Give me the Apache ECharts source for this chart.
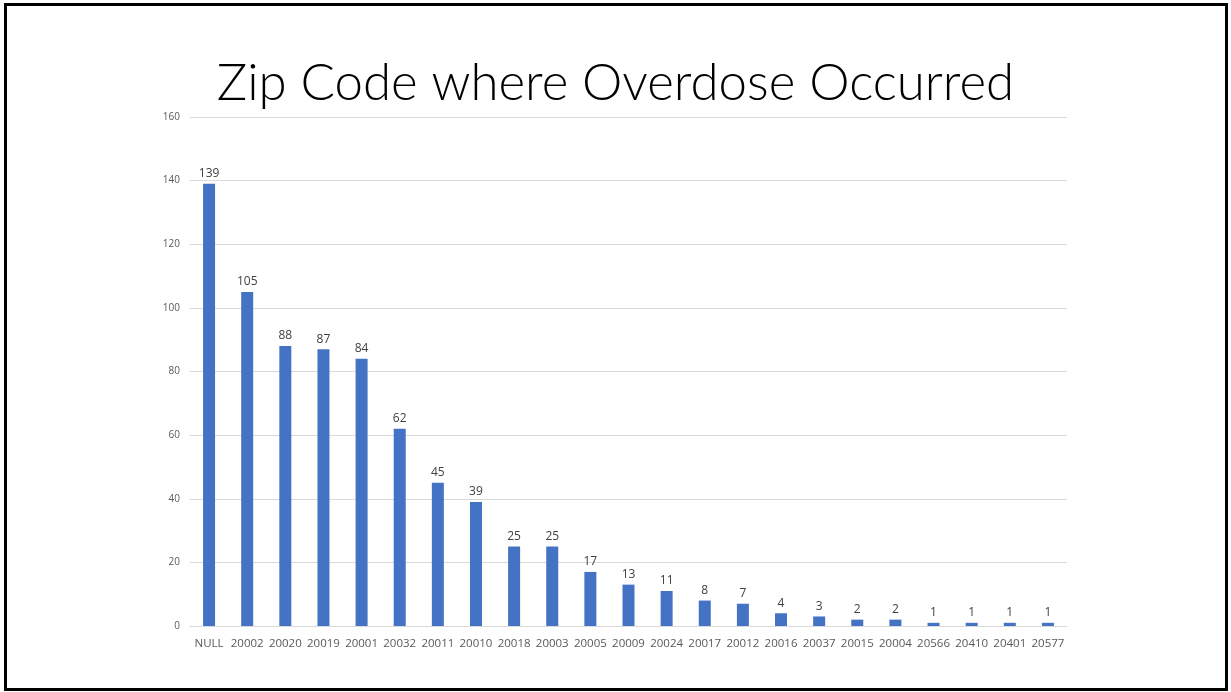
<!DOCTYPE html>
<html>
<head>
<meta charset="utf-8">
<script src="https://cdn.jsdelivr.net/npm/echarts@6/dist/echarts.min.js"></script>
<style>
  html, body { margin: 0; padding: 0; background: #fff; }
  #chart { width: 1231px; height: 692px; }
</style>
</head>
<body>
<div id="chart"></div>
<script>
// zip codes and counts
const zipCodes = ["NULL", "20002", "20020", "20019", "20001", "20032", "20011", "20010", "20018", "20003", "20005",
  "20009", "20024", "20017", "20012", "20016", "20037", "20015", "20004", "20566", "20410", "20401", "20577"];
const counts = [139, 105, 88, 87, 84, 62, 45, 39, 25, 25, 17, 13, 11, 8, 7, 4, 3, 2, 2, 1, 1, 1, 1];

const myChart = echarts.init(document.getElementById("chart"));

myChart.setOption({
  backgroundColor: "#fff",
  animation: false,
  title: {
    text: "Zip Code where Overdose Occurred",
    left: "center",
    top: 53,
    textStyle: {
      fontFamily: "Lato",
      fontWeight: 300,
      fontSize: 51,
      color: "#000",
    },
  },
  // slide frame
  graphic: [
    {
      type: "rect",
      shape: { x: 5.5, y: 4.5, width: 1221, height: 685 },
      style: { fill: "none", stroke: "#000", lineWidth: 3 },
      silent: true,
    },
  ],
  grid: {
    left: 190,
    right: 164,
    top: 117,
    bottom: 66,
  },
  xAxis: {
    type: "category",
    data: zipCodes,
    axisTick: { show: false },
    axisLine: { lineStyle: { color: "#d9d9d9" } },
    axisLabel: {
      color: "#595959",
      fontFamily: "Open Sans",
      fontSize: 11.5,
      margin: 12,
      interval: 0,
    },
  },
  yAxis: {
    type: "value",
    min: 0,
    max: 160,
    interval: 20,
    axisLine: { show: false },
    axisTick: { show: false },
    axisLabel: {
      color: "#595959",
      fontFamily: "Open Sans",
      fontSize: 10,
      margin: 10,
    },
    splitLine: { lineStyle: { color: "#d9d9d9" } },
  },
  series: [
    {
      type: "bar",
      data: counts,
      barWidth: 12,
      itemStyle: { color: "#4472c4" },
      label: {
        show: true,
        position: "top",
        distance: 4,
        color: "#404040",
        fontFamily: "Open Sans",
        fontSize: 12,
      },
    },
  ],
});
</script>
</body>
</html>
